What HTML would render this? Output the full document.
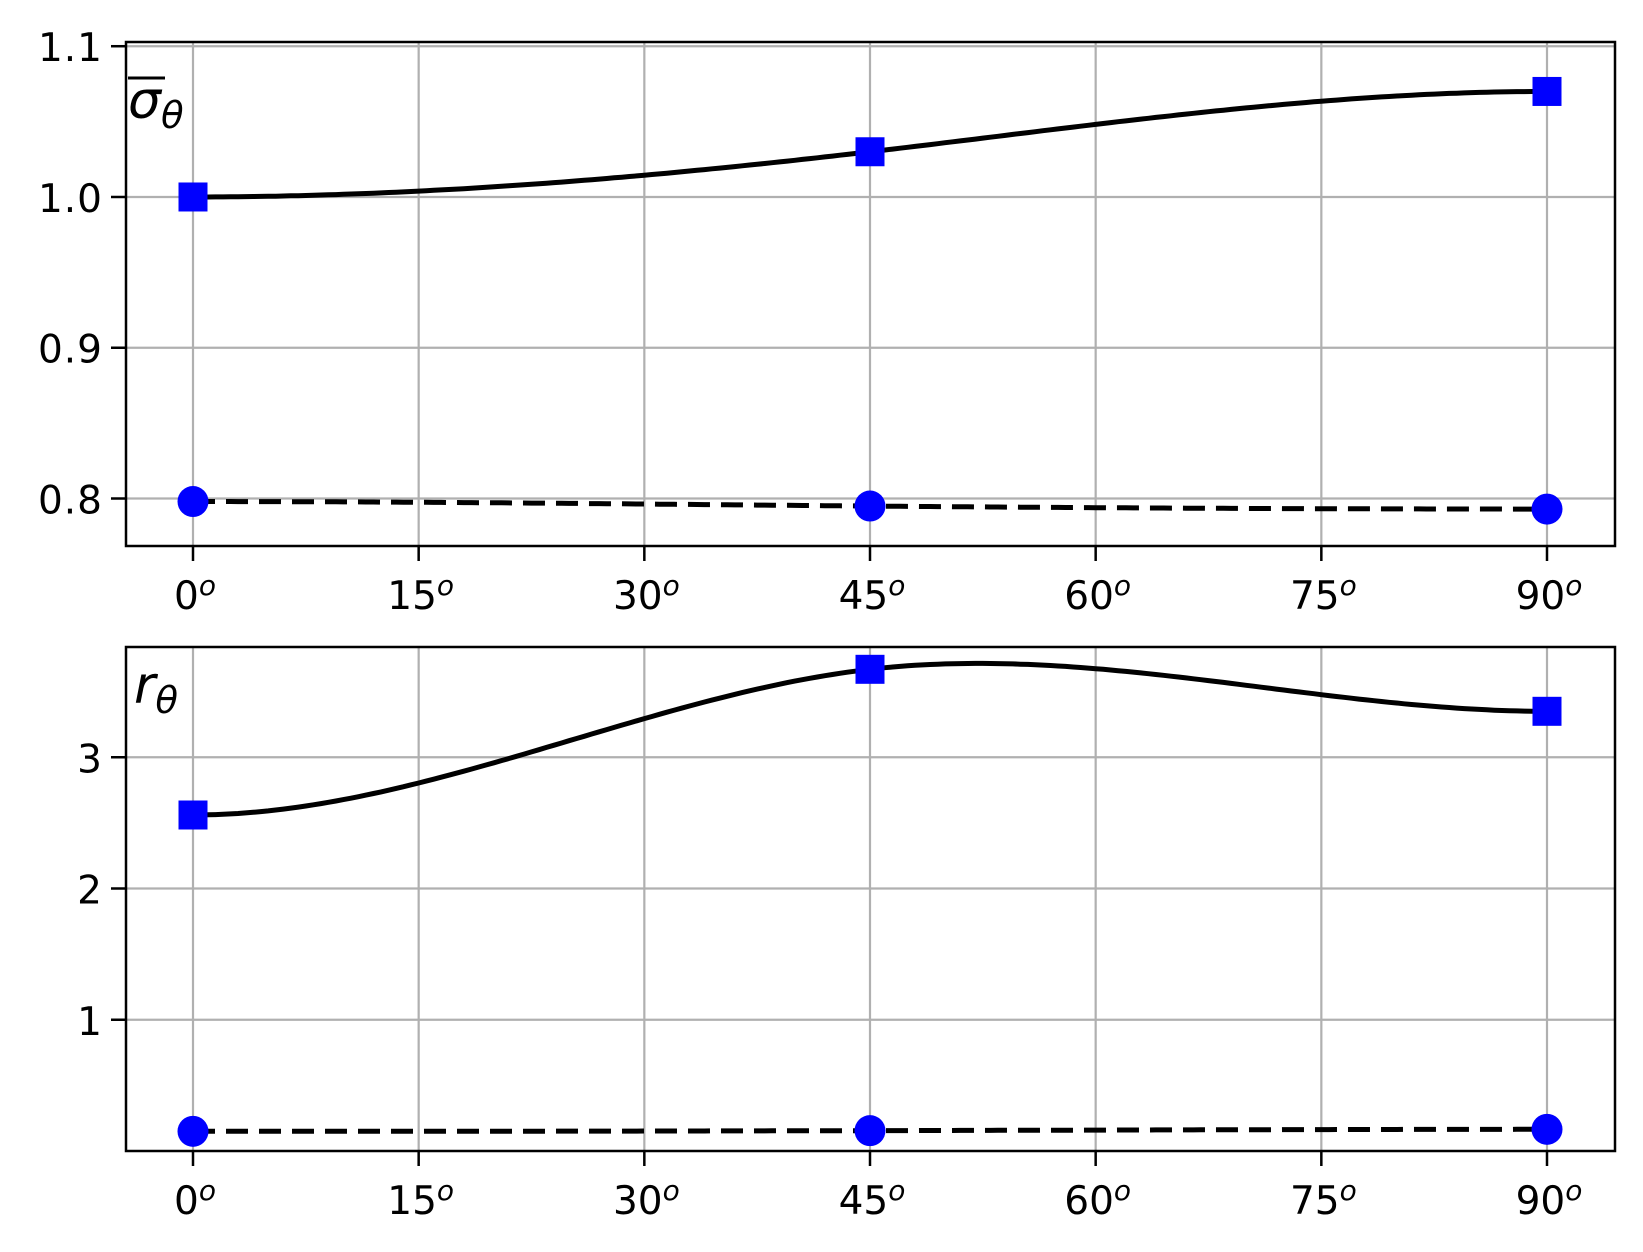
<!DOCTYPE html>
<html><head><meta charset="utf-8"><style>
html,body{margin:0;padding:0;background:#fff}
svg{display:block;font-family:"DejaVu Sans","Liberation Sans",sans-serif}
</style></head><body>
<svg id="c" width="1643" height="1252" viewBox="0 0 1643 1252"></svg>
<script>
const angles=[0,45,90];
const xTicks=[0,15,30,45,60,75,90];
const topSquares=[1.0,1.03,1.07];
const topCircles=[0.798,0.795,0.793];
const topYTicks=[0.8,0.9,1.0,1.1];
const botSquares=[2.56,3.67,3.35];
const botCircles=[0.15,0.155,0.165];
const botYTicks=[1,2,3];

const NS='http://www.w3.org/2000/svg';
const svg=document.getElementById('c');
function mk(t,a,p){const e=document.createElementNS(NS,t);for(const k in a)e.setAttribute(k,a[k]);(p||svg).appendChild(e);return e;}
const xS=v=>193+(v/90)*(1547-193);

function spline(xs,ys){
  const n=xs.length,h=[];
  for(let i=0;i<n-1;i++)h.push(xs[i+1]-xs[i]);
  const A=[],B=[],C=[],D=[];
  for(let i=0;i<n;i++){
    if(i===0){A.push(0);B.push(2*h[0]);C.push(h[0]);D.push(6*((ys[1]-ys[0])/h[0]));}
    else if(i===n-1){A.push(h[n-2]);B.push(2*h[n-2]);C.push(0);D.push(6*(0-(ys[n-1]-ys[n-2])/h[n-2]));}
    else{A.push(h[i-1]);B.push(2*(h[i-1]+h[i]));C.push(h[i]);D.push(6*((ys[i+1]-ys[i])/h[i]-(ys[i]-ys[i-1])/h[i-1]));}
  }
  for(let i=1;i<n;i++){const m=A[i]/B[i-1];B[i]-=m*C[i-1];D[i]-=m*D[i-1];}
  const M=new Array(n);M[n-1]=D[n-1]/B[n-1];
  for(let i=n-2;i>=0;i--)M[i]=(D[i]-C[i]*M[i+1])/B[i];
  return x=>{let i=0;while(i<n-2&&x>xs[i+1])i++;
    const t1=xs[i+1]-x,t0=x-xs[i],hi=h[i];
    return M[i]*t1*t1*t1/(6*hi)+M[i+1]*t0*t0*t0/(6*hi)+(ys[i]/hi-M[i]*hi/6)*t1+(ys[i+1]/hi-M[i+1]*hi/6)*t0;};
}

function panel(name,top,bot,ymin,ymax,yTicks,fmt,sq,ci,label){
  const L=126,R=1615;
  const yS=v=>bot-(v-ymin)/(ymax-ymin)*(bot-top);
  const g=mk('g',{});
  
  
  xTicks.forEach(t=>{const l=mk('line',{x1:xS(t),x2:xS(t),y1:top,y2:bot,stroke:'#b0b0b0','stroke-width':2.2},g);
    });
  yTicks.forEach(t=>{const l=mk('line',{x1:L,x2:R,y1:yS(t),y2:yS(t),stroke:'#b0b0b0','stroke-width':2.2},g);
    });
  const f1=spline(angles,sq),f2=spline(angles,ci);
  let p1='',p2='';
  for(let a=0;a<=90;a+=0.5){p1+=(a?'L':'M')+xS(a).toFixed(1)+','+yS(f1(a)).toFixed(1);p2+=(a?'L':'M')+xS(a).toFixed(1)+','+yS(f2(a)).toFixed(1);}
  const c1=mk('path',{d:p1,fill:'none',stroke:'#000','stroke-width':5},g);
  
  const c2=mk('path',{d:p2,fill:'none',stroke:'#000','stroke-width':5,'stroke-dasharray':'22,11'},g);
  
  angles.forEach((a,i)=>{
    const s=mk('rect',{x:xS(a)-14.5,y:yS(sq[i])-14.5,width:29,height:29,fill:'#0000ff'},g);
    
    const c=mk('circle',{cx:xS(a),cy:yS(ci[i]),r:15.5,fill:'#0000ff'},g);
    
  });
  const fr=mk('rect',{x:L,y:top,width:R-L,height:bot-top,fill:'none',stroke:'#000','stroke-width':2.5},g);
  
  xTicks.forEach(t=>{mk('line',{x1:xS(t),x2:xS(t),y1:bot,y2:bot+15,stroke:'#000','stroke-width':2.5},g);
    const tx=mk('text',{x:xS(t)+2,y:bot+63,'font-size':39,'text-anchor':'middle'},g);
    
    tx.appendChild(document.createTextNode(t));
    const o=mk('tspan',{'font-style':'italic','font-size':28,dy:-14},tx);o.textContent='o';});
  yTicks.forEach(t=>{mk('line',{x1:L-15,x2:L,y1:yS(t),y2:yS(t),stroke:'#000','stroke-width':2.5},g);
    const tx=mk('text',{x:L-23,y:yS(t)+15,'font-size':39,'text-anchor':'end','letter-spacing':1},g);
    
    tx.textContent=fmt(t);});
  label(g,top);
}

panel('top-panel',42,546,0.7685,1.1028,topYTicks,v=>v.toFixed(1),topSquares,topCircles,(g,top)=>{
  const t=mk('text',{x:128,y:118,'font-size':52,'font-style':'italic'},g);
  
  t.appendChild(document.createTextNode('σ'));
  const s=mk('tspan',{'font-size':37,dy:10},t);s.textContent='θ';
  mk('line',{x1:128,x2:165,y1:78,y2:78,stroke:'#000','stroke-width':3},g);
});
panel('bottom-panel',647,1151,0.0,3.84,botYTicks,v=>String(v),botSquares,botCircles,(g,top)=>{
  const t=mk('text',{x:134,y:703,'font-size':52,'font-style':'italic'},g);
  
  t.appendChild(document.createTextNode('r'));
  const s=mk('tspan',{'font-size':37,dy:10},t);s.textContent='θ';
});
</script>
</body></html>
